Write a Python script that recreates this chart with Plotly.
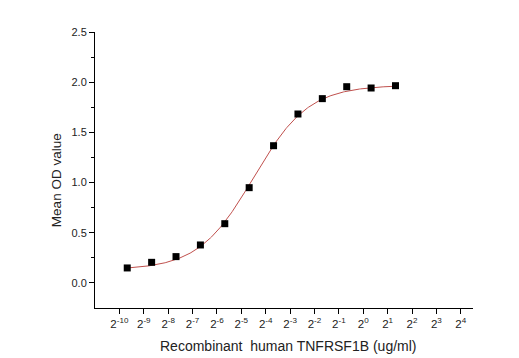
import numpy as np
import plotly.graph_objects as go

# Data: 2-fold dilution from 2.5 ug/ml
conc = [2.5 / 2**k for k in range(11, -1, -1)]
od = [0.149, 0.205, 0.262, 0.378, 0.590, 0.949, 1.367, 1.683, 1.836, 1.955, 1.942, 1.965]

# 4PL fit parameters (estimated)
bottom, top, ec50, hill = 0.13, 1.97, 2**-4.5, 1.28

tick_exp = list(range(-10, 5))
tick_vals = [2.0**e for e in tick_exp]
tick_text = [f"2<sup>{e}</sup>" for e in tick_exp]

xs = np.logspace(np.log10(min(conc)), np.log10(max(conc)), 300)
ys = bottom + (top - bottom) / (1 + (ec50 / xs) ** hill)

fig = go.Figure()
fig.add_trace(go.Scatter(x=xs, y=ys, mode="lines",
                         line=dict(color="#c0504d", width=1), hoverinfo="skip"))
fig.add_trace(go.Scatter(x=conc, y=od, mode="markers",
                         marker=dict(symbol="square", size=7, color="black")))

fig.update_layout(
    width=511, height=350, showlegend=False,
    paper_bgcolor="white", plot_bgcolor="white",
    margin=dict(l=87, r=46, t=24, b=50, autoexpand=False),
    font=dict(family="Liberation Sans, Arial, sans-serif", size=11, color="#222"),
)
fig.add_annotation(text="Recombinant  human TNFRSF1B (ug/ml)", xref="paper", yref="paper",
                   x=0.513, y=-0.138, xanchor="center", yanchor="middle", showarrow=False,
                   font=dict(size=14, color="#222"))
fig.add_annotation(text="Mean OD value", xref="paper", yref="paper", textangle=-90,
                   x=-0.1, y=0.464, xanchor="center", yanchor="middle", showarrow=False,
                   font=dict(size=13.5, color="#222"))
fig.update_xaxes(type="log", range=[np.log10(2**-11), np.log10(2**4.5)],
                 tickvals=tick_vals, ticktext=tick_text, automargin=False,
                 showgrid=False, zeroline=False, showline=True, linecolor="black", linewidth=1,
                 ticks="outside", ticklen=5, tickcolor="black",
                 tickfont=dict(size=11.5))
fig.update_yaxes(range=[-0.25, 2.5], tickvals=[0, 0.5, 1.0, 1.5, 2.0, 2.5],
                 ticktext=["0.0", "0.5", "1.0", "1.5", "2.0", "2.5"], automargin=False,
                 showgrid=False, zeroline=False, showline=True, linecolor="black", linewidth=1,
                 ticks="outside", ticklen=5, tickcolor="black",
                 minor=dict(tickvals=[0.25, 0.75, 1.25, 1.75, 2.25], ticks="outside", ticklen=3, tickcolor="black"),
                 tickfont=dict(size=11))

fig.write_html("out.html")
